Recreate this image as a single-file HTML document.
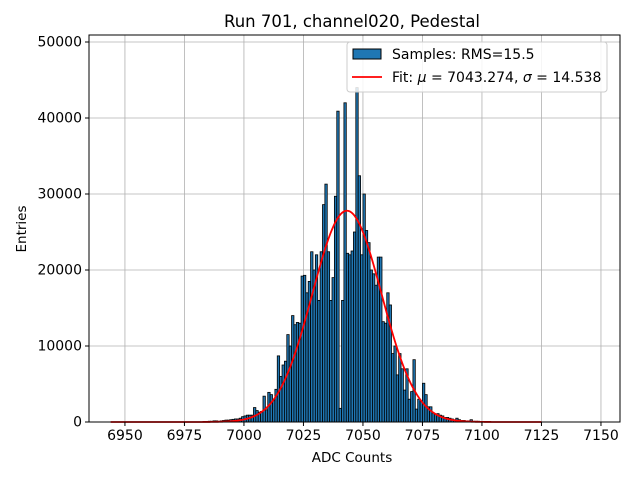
<!DOCTYPE html>
<html><head><meta charset="utf-8"><style>
html,body{margin:0;padding:0;background:#fff;}
svg{display:block;font-family:"DejaVu Sans","Liberation Sans",sans-serif;}
</style></head><body>
<svg id="chart" width="640" height="480" viewBox="0 0 640 480">
<rect x="0" y="0" width="640" height="480" fill="#fff"/>
<text x="352" y="27" text-anchor="middle" font-size="16.5">Run 701, channel020, Pedestal</text>
<g id="grid"></g>
<g id="bars"></g>
<path id="fit" fill="none" stroke="#ff0000" stroke-width="1.8"/>
<rect x="89" y="35" width="531" height="387" fill="none" stroke="#000" stroke-width="1"/>
<g id="xticks"></g>
<g id="yticks"></g>
<text x="352" y="462" text-anchor="middle" font-size="13.5">ADC Counts</text>
<text transform="translate(26,229) rotate(-90)" text-anchor="middle" font-size="13.5">Entries</text>
<g>
<rect x="347" y="42" width="260" height="50" rx="3" fill="#fff" fill-opacity="0.85" stroke="#ccc"/>
<rect x="353" y="49" width="28" height="10" fill="#1f77b4" stroke="#000"/>
<text x="392" y="59" font-size="14">Samples: RMS=15.5</text>
<line x1="352" y1="77" x2="382" y2="77" stroke="#ff0000" stroke-width="1.8"/>
<text x="392" y="82" font-size="14">Fit: <tspan font-style="italic">μ</tspan> = 7043.274, <tspan font-style="italic">σ</tspan> = 14.538</text>
</g>
</svg>
<script>
const binStart = 6985;
const counts = [100,100,150,150,100,150,200,250,250,300,350,400,400,500,700,
800,900,900,900,1900,1500,1300,1400,3400,1600,3900,3600,2800,4300,8700,
6000,7500,8000,11500,10000,14000,12800,13100,13000,19200,19300,17000,18500,22400,20000,
22000,16000,22400,28600,31300,22400,16000,19000,29700,40900,1800,16000,42000,22200,22000,
22500,25000,44000,32400,22000,30000,25200,23600,20000,19500,18000,21700,21700,13200,13000,
17000,15400,9000,10000,6200,9000,7000,4200,7000,3000,4000,8200,1700,3000,2800,
5100,3600,2000,2000,1200,1000,1100,900,800,600,600,500,400,300,500,
300,200,200,150,150,300,100,100,100];
const xTicks = [6950,6975,7000,7025,7050,7075,7100,7125,7150];
const yTicks = [0,10000,20000,30000,40000,50000];
const fitMu = 7043.274, fitSigma = 14.538, fitAmp = 27800;
const fitRange = [6944, 7125];

const X0=89,X1=620,Y0=422,Y1=35;
const xMin=6934.9,xMax=7158.0,yMin=0,yMax=50920;
const sx=v=>X0+(v-xMin)/(xMax-xMin)*(X1-X0);
const sy=v=>Y0-(v-yMin)/(yMax-yMin)*(Y0-Y1);
const NS="http://www.w3.org/2000/svg";
function mk(t,a){const e=document.createElementNS(NS,t);for(const k in a)e.setAttribute(k,a[k]);return e;}
const grid=document.getElementById('grid'),bars=document.getElementById('bars'),
xt=document.getElementById('xticks'),yt=document.getElementById('yticks');
xTicks.forEach(v=>{const x=sx(v);
 const g=mk('line',{x1:x,x2:x,y1:Y1,y2:Y0,stroke:'#b0b0b0','stroke-width':0.8});
 
 
 grid.appendChild(g);
 const t=mk('line',{x1:x,x2:x,y1:Y0,y2:Y0+4,stroke:'#000'});
 
 
 xt.appendChild(t);
 const l=mk('text',{x:x,y:Y0+18,'text-anchor':'middle','font-size':14});l.textContent=v;
 
 
 xt.appendChild(l);});
yTicks.forEach(v=>{const y=sy(v);
 const g=mk('line',{x1:X0,x2:X1,y1:y,y2:y,stroke:'#b0b0b0','stroke-width':0.8});
 
 
 grid.appendChild(g);
 const t=mk('line',{x1:X0-4,x2:X0,y1:y,y2:y,stroke:'#000'});
 
 
 yt.appendChild(t);
 const l=mk('text',{x:X0-7,y:y+4.5,'text-anchor':'end','font-size':14});l.textContent=v;
 
 
 yt.appendChild(l);});
counts.forEach((c,i)=>{const b=binStart+i;const x=sx(b),w=sx(b+1)-x;
 const r=mk('rect',{x:x,y:sy(c),width:w,height:Y0-sy(c),fill:'#1f77b4',stroke:'#000','stroke-width':0.8});
 
 
 bars.appendChild(r);});
let d='';
for(let v=fitRange[0];v<=fitRange[1];v+=0.25){
 const f=fitAmp*Math.exp(-((v-fitMu)**2)/(2*fitSigma*fitSigma));
 d+=(d?'L':'M')+sx(v).toFixed(2)+','+sy(f).toFixed(2);}
document.getElementById('fit').setAttribute('d',d);
</script>
</body></html>
